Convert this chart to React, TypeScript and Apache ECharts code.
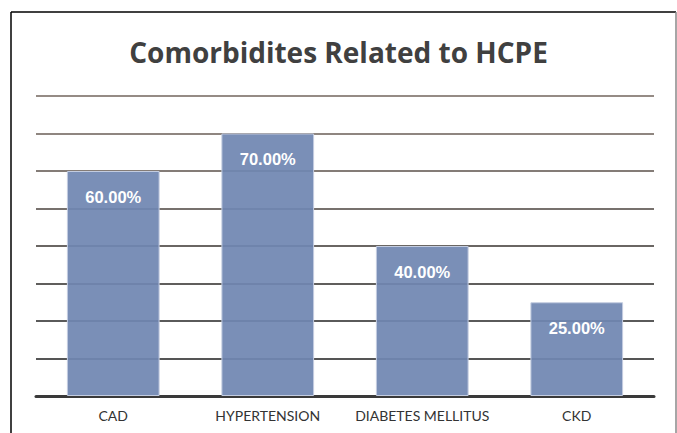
import React, { useEffect, useRef } from "react";
import * as echarts from "echarts";

const categories = ["CAD", "HYPERTENSION", "DIABETES MELLITUS", "CKD"];
const values = [60, 70, 40, 25];
const titleText = "Comorbidites Related to HCPE";
const gridColors = ["#3a3a3a", "#555", "#5a5a5a", "#605e5c", "#6a6663", "#77716d", "#847c77", "#8f8680", "#958b85"];

export default function App() {
  const ref = useRef<HTMLDivElement>(null);
  useEffect(() => {
    const chart = echarts.init(ref.current!, null, { renderer: "svg" });
    chart.setOption({
      animation: false,
      backgroundColor: "#fff",
      title: {
        text: titleText,
        left: "center",
        top: 33,
        textStyle: { fontFamily: "Open Sans", fontWeight: "bold", fontSize: 28, color: "#404040" },
      },
      graphic: [
        { type: "line", shape: { x1: 11, y1: 12, x2: 676, y2: 12 }, style: { stroke: "#000", lineWidth: 1.5 } },
        { type: "line", shape: { x1: 11, y1: 12, x2: 11, y2: 433 }, style: { stroke: "#000", lineWidth: 1.5 } },
        { type: "line", shape: { x1: 676, y1: 12, x2: 676, y2: 433 }, style: { stroke: "#888", lineWidth: 1.5 } },
      ],
      grid: { left: 36, right: 23, top: 96, bottom: 37, containLabel: false },
      xAxis: {
        type: "category",
        data: categories,
        axisTick: { show: false },
        axisLine: { show: true, lineStyle: { color: "#3a3a3a", width: 3 } },
        axisLabel: { interval: 0, margin: 12, fontFamily: "Lato", fontSize: 14, color: "#333" },
      },
      yAxis: {
        type: "value",
        min: 0,
        max: 80,
        interval: 10,
        axisLabel: { show: false },
        axisLine: { show: false },
        axisTick: { show: false },
        splitLine: { lineStyle: { color: gridColors, width: 2 } },
      },
      series: [
        {
          type: "bar",
          data: values,
          barWidth: "60%",
          itemStyle: { color: "rgba(112,134,178,0.93)", borderColor: "#c3cce0", borderWidth: 1 },
          label: {
            show: true,
            position: "insideTop",
            distance: 17,
            formatter: (p: any) => p.value.toFixed(2) + "%",
            fontFamily: "Liberation Sans",
            fontWeight: "bold",
            fontSize: 16.5,
            color: "#fff",
          },
        },
      ],
    });
    return () => chart.dispose();
  }, []);
  return <div ref={ref} style={{ position: "fixed", left: 0, top: 0, width: 677, height: 433 }} />;
}
